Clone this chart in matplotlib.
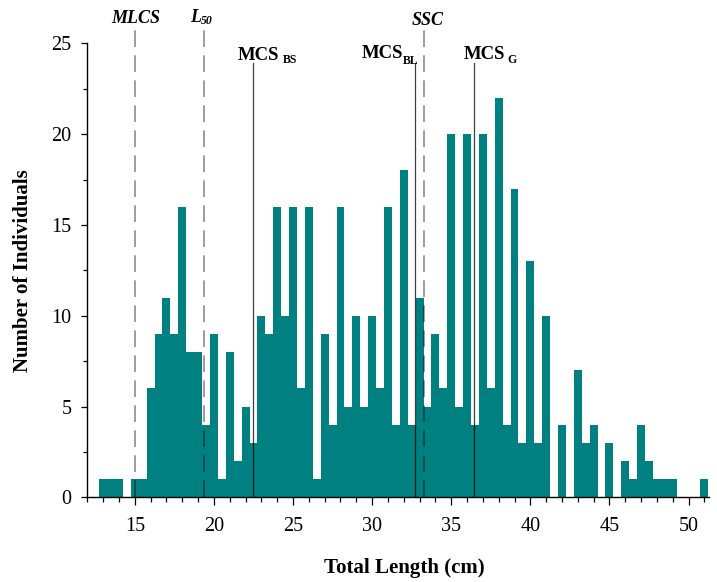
import numpy as np
import matplotlib
matplotlib.use("Agg")
import matplotlib.pyplot as plt
from matplotlib.ticker import MultipleLocator

# ---- data ----
bin_centers = [13 + 0.5 * i for i in range(77)]  # 13.0 ... 51.0 cm
counts = [1, 1, 1, 0, 1, 1, 6, 9, 11, 9,
          16, 8, 8, 4, 9, 1, 8, 2, 5, 3,
          10, 9, 16, 10, 16, 6, 16, 1, 9, 4,
          16, 5, 10, 5, 10, 6, 16, 4, 18, 4,
          11, 5, 9, 6, 20, 5, 20, 4, 20, 6,
          22, 4, 17, 3, 13, 3, 10, 0, 4, 0,
          7, 3, 4, 0, 3, 0, 2, 1, 4, 2,
          1, 1, 1, 0, 0, 0, 1]
bin_width = 0.5

dashed_names = ["MLCS", "L50", "SSC"]
dashed_x = [15.0, 19.35, 33.28]
solid_names = ["MCS_BS", "MCS_BL", "MCS_G"]
solid_x = [22.5, 32.72, 36.46]

x_ticks = [15, 20, 25, 30, 35, 40, 45, 50]
y_ticks = [0, 5, 10, 15, 20, 25]

plt.rcParams['font.family'] = ['Liberation Serif', 'DejaVu Serif']

fig = plt.figure(figsize=(7.17, 5.82), dpi=100)
ax = fig.add_axes([0.1218, 0.1455, 0.8672, 0.7801])

teal = '#008080'
ax.bar(bin_centers, counts, width=bin_width, color=teal, edgecolor='none',
       linewidth=0, zorder=2)

for xv in dashed_x:
    ax.plot([xv, xv], [0, 25.8], color='black', alpha=0.45, lw=1.2,
            dashes=(10, 5), clip_on=False, zorder=3)
for xv in solid_x:
    ax.plot([xv, xv], [0, 23.9], color='black', alpha=0.75, lw=0.9,
            clip_on=False, zorder=3)

ax.set_xlim(12, 51.3)
ax.set_ylim(0, 25)
ax.set_xticks(x_ticks)
ax.set_yticks(y_ticks)
ax.xaxis.set_minor_locator(MultipleLocator(1))
ax.yaxis.set_minor_locator(MultipleLocator(2.5))

for s in ['top', 'right']:
    ax.spines[s].set_visible(False)
for s in ['left', 'bottom']:
    ax.spines[s].set_linewidth(1.0)

ax.tick_params(axis='x', which='major', length=5.5, width=0.9, pad=9, labelsize=14.5, direction='out')
ax.tick_params(axis='x', which='minor', length=3.5, width=0.9, direction='out')
ax.tick_params(axis='y', which='major', length=4.5, width=0.9, pad=7, labelsize=14.5, direction='out')
ax.tick_params(axis='y', which='minor', length=3, width=0.9, direction='out')

ax.set_xlabel('Total Length (cm)', fontsize=15, fontweight='bold')
ax.set_ylabel('Number of Individuals', fontsize=15, fontweight='bold')
ax.xaxis.set_label_coords(0.51, -0.155)
ax.xaxis.label.set_va('center')
ax.yaxis.set_label_coords(-0.104, 0.5)
ax.yaxis.label.set_va('center')

# ---- reference line labels ----
bi = dict(fontsize=13, fontweight='bold', fontstyle='italic', clip_on=False, va='baseline')
b = dict(fontsize=13.5, fontweight='bold', clip_on=False, va='baseline')
bs = dict(fontsize=8.5, fontweight='bold', clip_on=False, va='baseline')

ax.text(15.06, 26.12, 'MLCS', ha='center', **bi)
ax.text(18.48, 26.19, 'L', ha='left', **bi)
ax.text(19.15, 26.06, '50', ha='left', fontsize=8.5, fontweight='bold',
        fontstyle='italic', clip_on=False, va='baseline')
ax.text(33.49, 25.99, 'SSC', ha='center', **bi)

ax.text(21.51, 24.09, 'MCS', ha='left', **b)
ax.text(24.36, 23.90, 'BS', ha='left', **bs)
ax.text(29.33, 24.17, 'MCS', ha='left', **b)
ax.text(31.92, 23.86, 'BL', ha='left', **bs)
ax.text(35.80, 24.12, 'MCS', ha='left', **b)
ax.text(38.58, 23.93, 'G', ha='left', **bs)

fig.savefig('out.png', dpi=100)
